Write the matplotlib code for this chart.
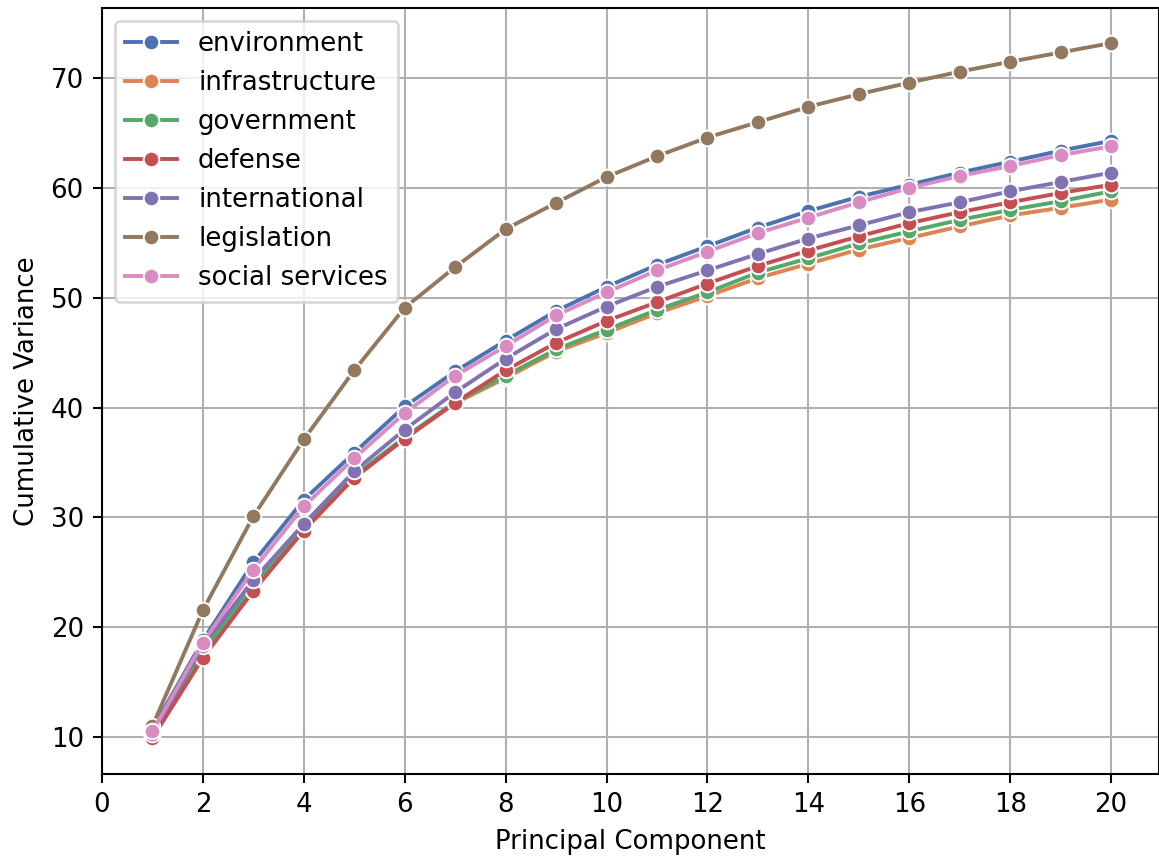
#!/usr/bin/env python3
"""Cumulative explained variance per topic over the first 20 principal components."""
import matplotlib
matplotlib.use("Agg")
import matplotlib.pyplot as plt
import pandas as pd
import seaborn as sns

DPI = 187
FIG_SIZE = (1159 / DPI, 857 / DPI)

COMPONENTS = list(range(1, 21))

ENVIRONMENT = [10.7, 18.8, 25.9, 31.6, 35.9, 40.1, 43.3, 46.1, 48.8, 51.0,
               53.0, 54.7, 56.4, 57.9, 59.2, 60.3, 61.4, 62.4, 63.4, 64.3]
INFRASTRUCTURE = [10.0, 17.6, 23.6, 28.9, 33.7, 37.2, 40.4, 42.7, 45.1, 46.8,
                  48.6, 50.15, 51.8, 53.1, 54.4, 55.45, 56.5, 57.5, 58.2, 58.95]
GOVERNMENT = [10.1, 17.8, 23.8, 29.0, 33.8, 37.3, 40.5, 42.9, 45.3, 47.1,
              48.9, 50.5, 52.3, 53.6, 54.95, 56.05, 57.1, 58.0, 58.8, 59.7]
DEFENSE = [9.9, 17.2, 23.3, 28.8, 33.6, 37.15, 40.45, 43.4, 45.9, 47.9,
           49.6, 51.3, 52.9, 54.3, 55.6, 56.8, 57.8, 58.7, 59.55, 60.3]
INTERNATIONAL = [10.3, 18.3, 24.3, 29.4, 34.2, 38.0, 41.4, 44.45, 47.15, 49.2,
                 51.0, 52.5, 54.0, 55.4, 56.6, 57.8, 58.7, 59.7, 60.55, 61.4]
LEGISLATION = [11.0, 21.55, 30.1, 37.1, 43.4, 49.1, 52.8, 56.25, 58.65, 61.0,
               62.9, 64.6, 66.0, 67.4, 68.55, 69.6, 70.6, 71.5, 72.35, 73.2]
SOCIAL_SERVICES = [10.5, 18.6, 25.25, 31.0, 35.4, 39.5, 42.9, 45.6, 48.4, 50.5,
                   52.5, 54.2, 55.9, 57.3, 58.7, 60.0, 61.1, 62.0, 63.0, 63.8]

TOPICS = [
    ("environment", ENVIRONMENT),
    ("infrastructure", INFRASTRUCTURE),
    ("government", GOVERNMENT),
    ("defense", DEFENSE),
    ("international", INTERNATIONAL),
    ("legislation", LEGISLATION),
    ("social services", SOCIAL_SERVICES),
]


def build_frame():
    rows = []
    for topic, values in TOPICS:
        for pc, v in zip(COMPONENTS, values):
            rows.append({"Principal Component": pc, "Cumulative Variance": v, "topic": topic})
    return pd.DataFrame(rows)


def main():
    df = build_frame()
    fig, ax = plt.subplots(figsize=FIG_SIZE, dpi=DPI)
    fig.subplots_adjust(left=0.088, right=1.0, top=0.9907, bottom=0.0969)
    sns.lineplot(
        data=df,
        x="Principal Component",
        y="Cumulative Variance",
        hue="topic",
        hue_order=[t for t, _ in TOPICS],
        palette="deep",
        marker="o",
        ax=ax,
    )
    ax.set_xlim(0, 20.95)
    ax.set_ylim(6.63, 76.4)
    ax.set_xticks(range(0, 21, 2))
    ax.grid(True)
    ax.legend(loc="upper left", title=None)
    fig.savefig("out.png", dpi=DPI)
    plt.close(fig)


if __name__ == "__main__":
    main()
